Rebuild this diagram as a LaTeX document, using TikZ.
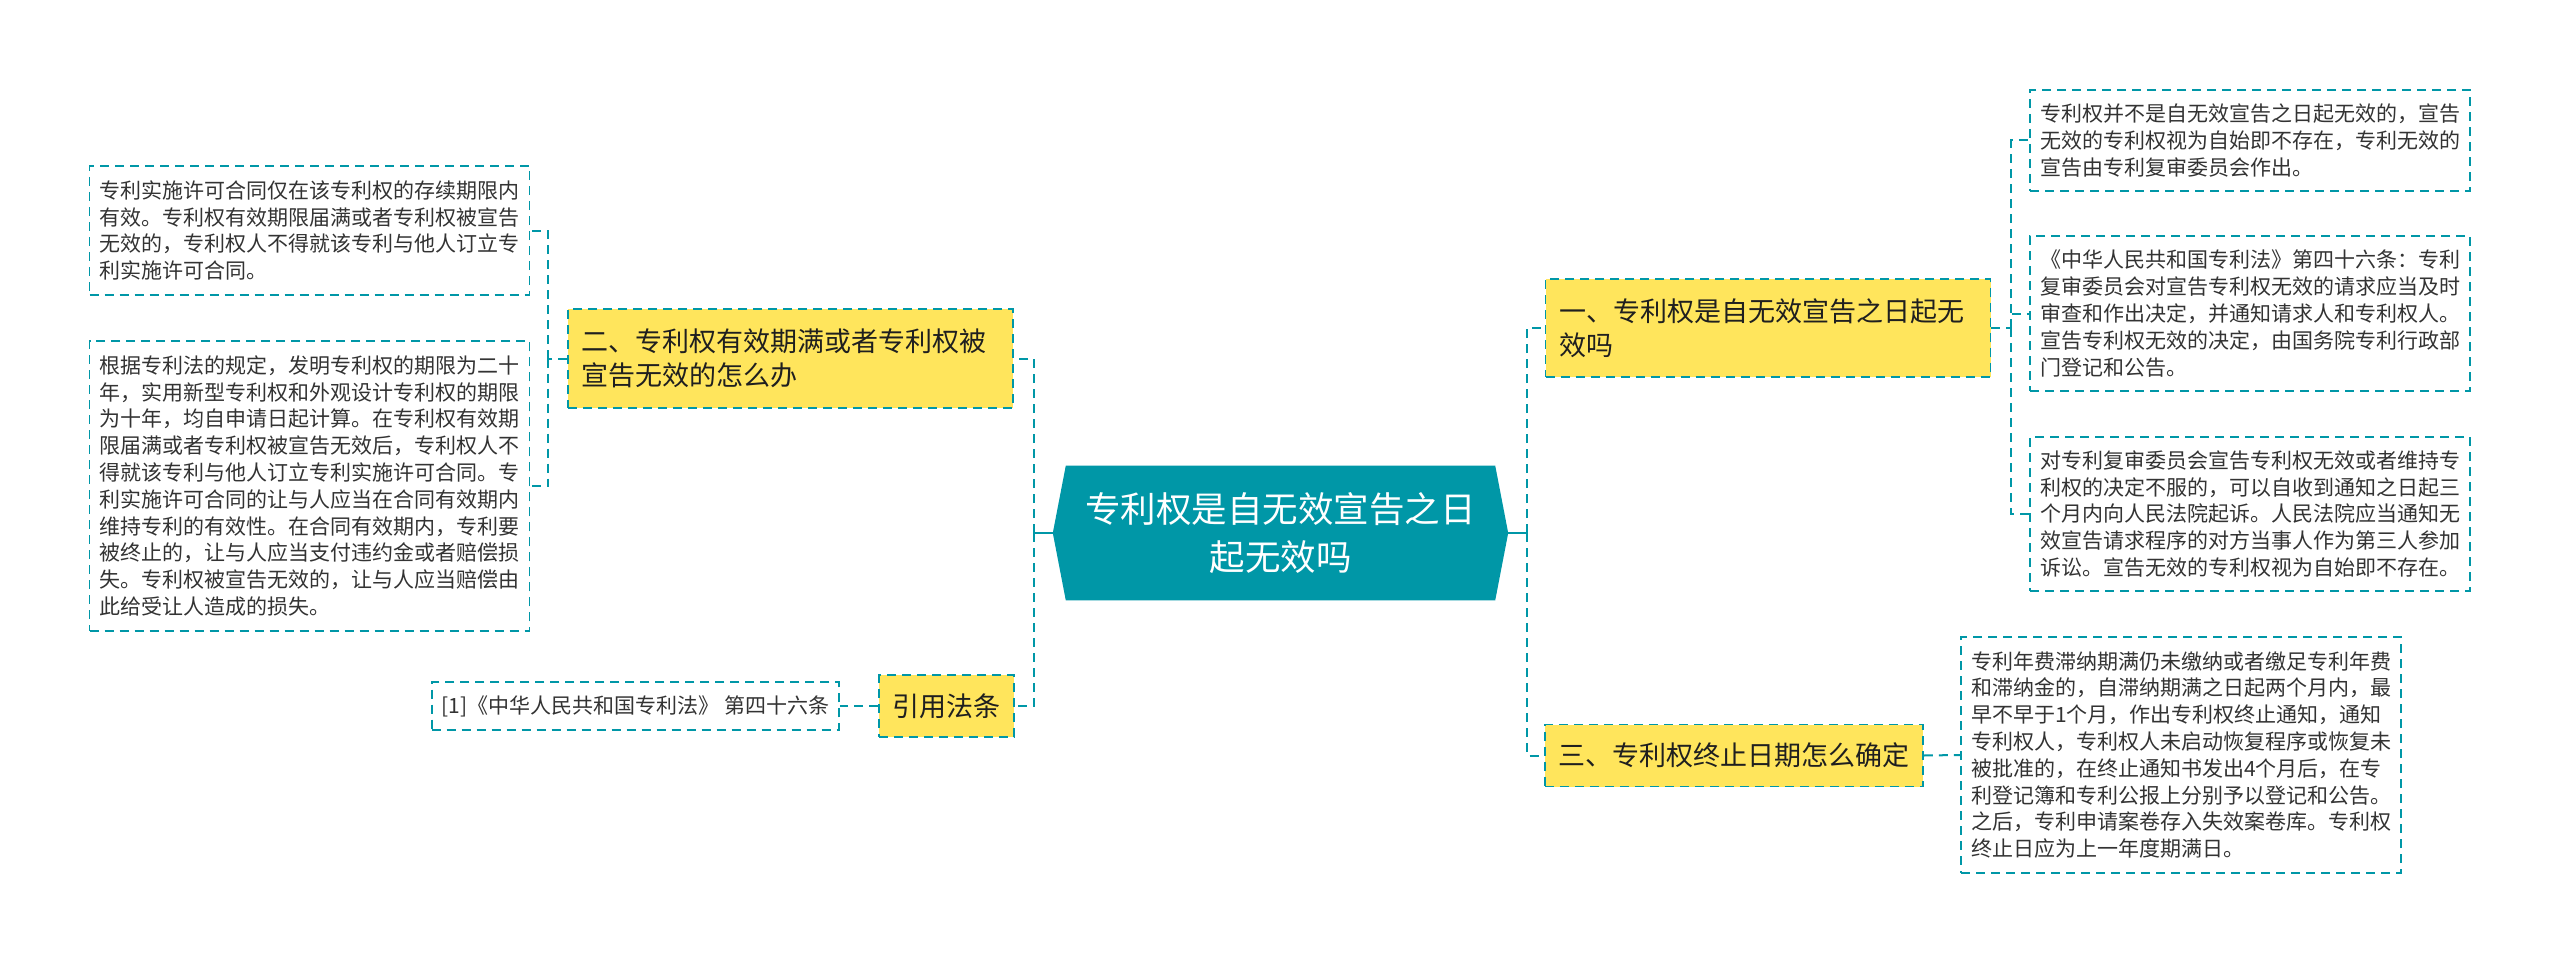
\documentclass[tikz,border=0pt]{standalone}
\usepackage{fontspec}
\setmainfont{Noto Sans CJK SC}
\usepackage{tikz}
\usetikzlibrary{calc,backgrounds}
\definecolor{mapteal}{RGB}{0,151,167}
\definecolor{mapyellow}{RGB}{255,229,92}
\definecolor{leaftext}{RGB}{51,51,51}

\begin{document}
\begin{tikzpicture}[x=1pt,y=1pt,yscale=-1,
  note/.style={draw=mapteal,line width=1.6pt,dash pattern=on 9pt off 6pt,fill=white,text=leaftext,font=\fontsize{21}{26.8}\selectfont,align=left,inner xsep=10pt,inner ysep=4pt},
  leaf/.style={note,text width=420pt},
  branch/.style={draw=mapteal,line width=1.6pt,dash pattern=on 9pt off 6pt,fill=mapyellow,text=black!88,font=\fontsize{27}{34}\selectfont,align=left,inner xsep=13.5pt,inner ysep=4pt},
  root/.style={text=white,font=\fontsize{35.5}{48}\selectfont,align=center,minimum width=455pt,minimum height=134.5pt},
  link/.style={draw=mapteal,line width=2pt,dash pattern=on 9pt off 6pt},
  stem/.style={draw=mapteal,line width=2.5pt}]
\useasboundingbox (0,0) rectangle (2560,963);

% Root Node
\node (root) [root] at (1280.5,533) {专利权是自无效宣告之日\\起无效吗};
\begin{scope}[on background layer]
\fill[mapteal] ($(root.north west)+(13,0)$) -- ($(root.north east)+(-13,0)$) -- (root.east) -- ($(root.south east)+(-13,0)$) -- ($(root.south west)+(13,0)$) -- (root.west) -- cycle;
\end{scope}

% Branch Nodes
\node (br1) [branch,text width=418pt,minimum height=98.5pt] at (1768,328) {一、专利权是自无效宣告之日起无\\效吗};
\node (br3) [branch,minimum height=62pt] at (1734,755.5) {三、专利权终止日期怎么确定};
\node (br2) [branch,text width=418pt,minimum height=99pt] at (790.5,358.5) {二、专利权有效期满或者专利权被\\宣告无效的怎么办};
\node (cite) [branch,minimum height=61.5pt] at (946.5,706) {引用法条};

% Leaf Nodes
\node (leafR1) [leaf,minimum height=101pt] at (2250,140.5) {专利权并不是自无效宣告之日起无效的，宣告\\无效的专利权视为自始即不存在，专利无效的\\宣告由专利复审委员会作出。};
\node (leafR2) [leaf,minimum height=155pt] at (2250,313.5) {《中华人民共和国专利法》第四十六条：专利\\复审委员会对宣告专利权无效的请求应当及时\\审查和作出决定，并通知请求人和专利权人。\\宣告专利权无效的决定，由国务院专利行政部\\门登记和公告。};
\node (leafR3) [leaf,minimum height=154pt] at (2250,514) {对专利复审委员会宣告专利权无效或者维持专\\利权的决定不服的，可以自收到通知之日起三\\个月内向人民法院起诉。人民法院应当通知无\\效宣告请求程序的对方当事人作为第三人参加\\诉讼。宣告无效的专利权视为自始即不存在。};
\node (leafR4) [leaf,minimum height=236pt] at (2181,755) {专利年费滞纳期满仍未缴纳或者缴足专利年费\\和滞纳金的，自滞纳期满之日起两个月内，最\\早不早于1个月，作出专利权终止通知，通知\\专利权人，专利权人未启动恢复程序或恢复未\\被批准的，在终止通知书发出4个月后，在专\\利登记簿和专利公报上分别予以登记和公告。\\之后，专利申请案卷存入失效案卷库。专利权\\终止日应为上一年度期满日。};
\node (leafL1) [leaf,minimum height=129pt] at (309.5,230.5) {专利实施许可合同仅在该专利权的存续期限内\\有效。专利权有效期限届满或者专利权被宣告\\无效的，专利权人不得就该专利与他人订立专\\利实施许可合同。};
\node (leafL2) [leaf,minimum height=290.5pt] at (309.5,486) {根据专利法的规定，发明专利权的期限为二十\\年，实用新型专利权和外观设计专利权的期限\\为十年，均自申请日起计算。在专利权有效期\\限届满或者专利权被宣告无效后，专利权人不\\得就该专利与他人订立专利实施许可合同。专\\利实施许可合同的让与人应当在合同有效期内\\维持专利的有效性。在合同有效期内，专利要\\被终止的，让与人应当支付违约金或者赔偿损\\失。专利权被宣告无效的，让与人应当赔偿由\\此给受让人造成的损失。};
\node (leafRef) [note,minimum height=47.5pt] at (635.5,706) {[1]《中华人民共和国专利法》 第四十六条};

%Connector Lines
\draw[stem] (root.east) -- ++(19,0) coordinate (rjoint);
\draw[link] (rjoint) |- (br1.west);
\draw[link] (rjoint) |- (br3.west);
\draw[stem] (root.west) -- ++(-19,0) coordinate (ljoint);
\draw[link] (ljoint) |- (br2.east);
\draw[link] (ljoint) |- (cite.east);
\draw[link] (br1.east) -- ++(20,0) coordinate (r1joint);
\draw[link] (r1joint) |- (leafR1.west);
\draw[link] (r1joint) |- (leafR2.west);
\draw[link] (r1joint) |- (leafR3.west);
\draw[link] (br3.east) -- (leafR4.west);
\draw[link] (br2.west) -- ++(-19,0) coordinate (l2joint);
\draw[link] (l2joint) |- (leafL1.east);
\draw[link] (l2joint) |- (leafL2.east);
\draw[link] (cite.west) -- (leafRef.east);

\end{tikzpicture}
\end{document}
